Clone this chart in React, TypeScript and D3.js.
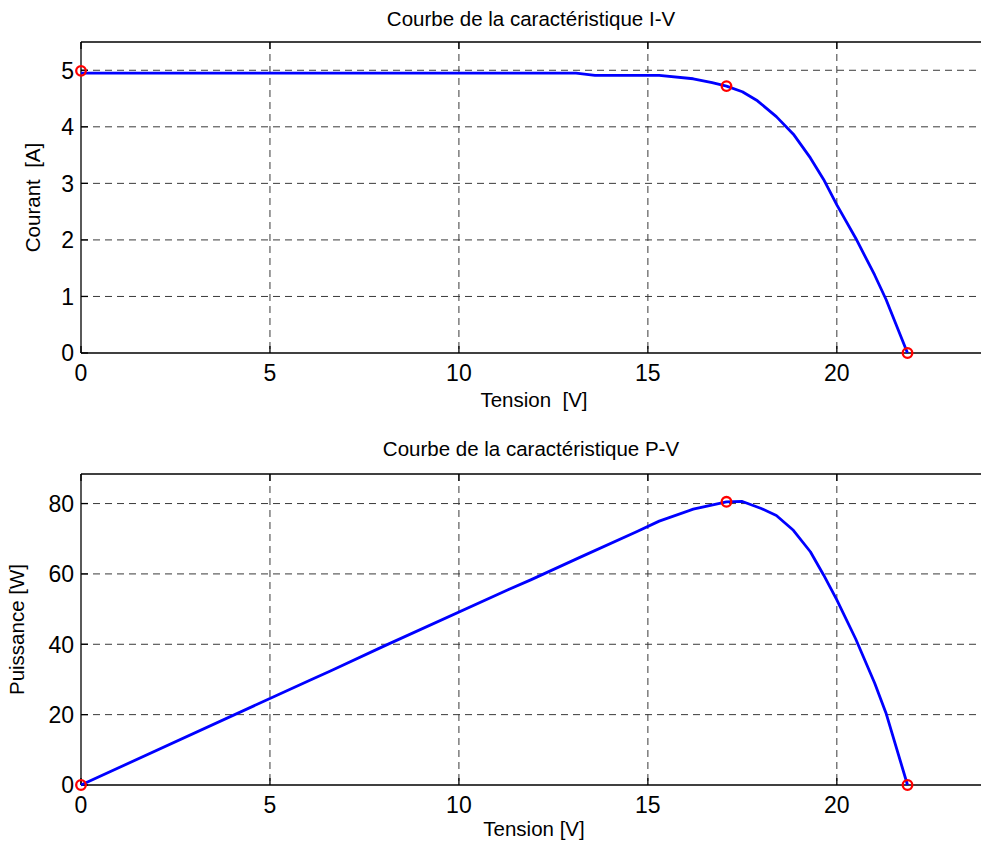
import React, { useEffect, useRef } from "react";
import * as d3 from "d3";

// I-V curve
const ivTension = [0, 13.1, 13.6, 15.3, 16.2, 16.7, 17.08, 17.5, 17.9, 18.4, 18.85, 19.3, 19.65, 20.0, 20.5, 21.0, 21.3, 21.87];
const ivCourant = [4.95, 4.95, 4.91, 4.91, 4.85, 4.78, 4.72, 4.62, 4.46, 4.18, 3.87, 3.45, 3.07, 2.62, 2.03, 1.38, 0.95, 0];

// P-V curve
const pvTension = [0, 6.1, 6.6, 8.0, 11.3, 11.9, 13.2, 14.7, 15.3, 16.2, 17.08, 17.5, 18.0, 18.4, 18.85, 19.3, 19.65, 20.0, 20.5, 21.0, 21.3, 21.87];
const pvPuissance = [0, 30.0, 32.4, 39.4, 55.5, 58.3, 64.7, 72.0, 75.0, 78.4, 80.5, 80.6, 78.6, 76.6, 72.4, 66.3, 59.7, 52.6, 41.5, 29.0, 20.5, 0];

// red circle markers: Isc, MPP, Voc
const ivMarkV = [0, 17.08, 21.87];
const ivMarkI = [4.99, 4.72, 0];
const pvMarkV = [0, 17.08, 21.87];
const pvMarkP = [0, 80.5, 0];

const xTicks = [0, 5, 10, 15, 20];
const ivTicks = [0, 1, 2, 3, 4, 5];
const pvTicks = [0, 20, 40, 60, 80];

const W = 981;
const H = 841;

export default function App() {
  const svgRef = useRef<SVGSVGElement>(null);

  useEffect(() => {
    document.body.style.margin = "0";
    const svg = d3.select(svgRef.current);
    svg.selectAll("*").remove();
    svg.append("rect").attr("width", W).attr("height", H).attr("fill", "#fff");

    const font = "'Liberation Sans', Arial, sans-serif";

    const panel = (opts: {
      top: number;
      bottom: number;
      yMax: number;
      yTicks: number[];
      xs: number[];
      ys: number[];
      mx: number[];
      my: number[];
      title: string;
      xLabel: string;
      yLabel: string;
      yLabelX: number;
      xLabelY: number;
      titleY: number;
    }) => {
      const x = d3.scaleLinear().domain([0, 24]).range([81, 988]);
      const y = d3.scaleLinear().domain([0, opts.yMax]).range([opts.bottom, opts.top]);
      const g = svg.append("g");

      // grid
      const grid = g.append("g").attr("stroke", "#3a3a3a").attr("stroke-width", 1).attr("stroke-dasharray", "7,5");
      xTicks.filter((t) => t > 0).forEach((t) => {
        grid.append("line").attr("x1", x(t)).attr("x2", x(t)).attr("y1", opts.top).attr("y2", opts.bottom);
      });
      opts.yTicks.filter((t) => t > 0).forEach((t) => {
        grid.append("line").attr("x1", x(0)).attr("x2", W).attr("y1", y(t)).attr("y2", y(t));
      });

      // spines
      const sp = g.append("g").attr("stroke", "#000").attr("stroke-width", 1.3);
      sp.append("line").attr("x1", x(0)).attr("x2", W).attr("y1", opts.top).attr("y2", opts.top);
      sp.append("line").attr("x1", x(0)).attr("x2", W).attr("y1", opts.bottom).attr("y2", opts.bottom);
      sp.append("line").attr("x1", x(0)).attr("x2", x(0)).attr("y1", opts.top).attr("y2", opts.bottom);

      // small inward ticks
      xTicks.forEach((t) => {
        sp.append("line").attr("x1", x(t)).attr("x2", x(t)).attr("y1", opts.bottom).attr("y2", opts.bottom - 7);
        sp.append("line").attr("x1", x(t)).attr("x2", x(t)).attr("y1", opts.top).attr("y2", opts.top + 7);
      });
      opts.yTicks.forEach((t) => {
        sp.append("line").attr("x1", x(0)).attr("x2", x(0) + 7).attr("y1", y(t)).attr("y2", y(t));
      });

      // tick labels
      xTicks.forEach((t) => {
        g.append("text").attr("x", x(t)).attr("y", opts.bottom + 28).attr("text-anchor", "middle")
          .attr("font-family", font).attr("font-size", 23).text(String(t));
      });
      opts.yTicks.forEach((t) => {
        g.append("text").attr("x", 74).attr("y", y(t) + 8.3).attr("text-anchor", "end")
          .attr("font-family", font).attr("font-size", 23).text(String(t));
      });

      // curve
      const pts: [number, number][] = opts.xs.map((v, i) => [v, opts.ys[i]]);
      const line = d3.line<[number, number]>().x((d) => x(d[0])).y((d) => y(d[1]));
      g.append("path").datum(pts).attr("fill", "none").attr("stroke", "#0000ff")
        .attr("stroke-width", 2.8).attr("stroke-linejoin", "round").attr("d", line);

      // markers
      opts.mx.forEach((v, i) => {
        g.append("circle").attr("cx", x(v)).attr("cy", y(opts.my[i])).attr("r", 4.8)
          .attr("fill", "none").attr("stroke", "#ff0000").attr("stroke-width", 2.3);
      });

      // labels
      g.append("text").attr("x", 531).attr("y", opts.titleY).attr("text-anchor", "middle")
        .attr("font-family", font).attr("font-size", 20.5).text(opts.title);
      g.append("text").attr("x", 534).attr("y", opts.xLabelY).attr("text-anchor", "middle")
        .attr("font-family", font).attr("font-size", 20.5)
        .style("white-space", "pre").text(opts.xLabel);
      const cy = (opts.top + opts.bottom) / 2;
      g.append("text").attr("transform", `translate(${opts.yLabelX},${cy}) rotate(-90)`)
        .attr("text-anchor", "middle").attr("font-family", font).attr("font-size", 20.5)
        .style("white-space", "pre").text(opts.yLabel);
    };

    panel({
      top: 42, bottom: 353, yMax: 5.5, yTicks: ivTicks,
      xs: ivTension, ys: ivCourant, mx: ivMarkV, my: ivMarkI,
      title: "Courbe de la caractéristique I-V", xLabel: "Tension  [V]", yLabel: "Courant  [A]",
      yLabelX: 40, xLabelY: 407, titleY: 26,
    });
    panel({
      top: 474, bottom: 785, yMax: 88.4, yTicks: pvTicks,
      xs: pvTension, ys: pvPuissance, mx: pvMarkV, my: pvMarkP,
      title: "Courbe de la caractéristique P-V", xLabel: "Tension [V]", yLabel: "Puissance [W]",
      yLabelX: 24, xLabelY: 836, titleY: 456,
    });
  }, []);

  return <svg ref={svgRef} width={W} height={H} style={{ display: "block" }}></svg>;
}
